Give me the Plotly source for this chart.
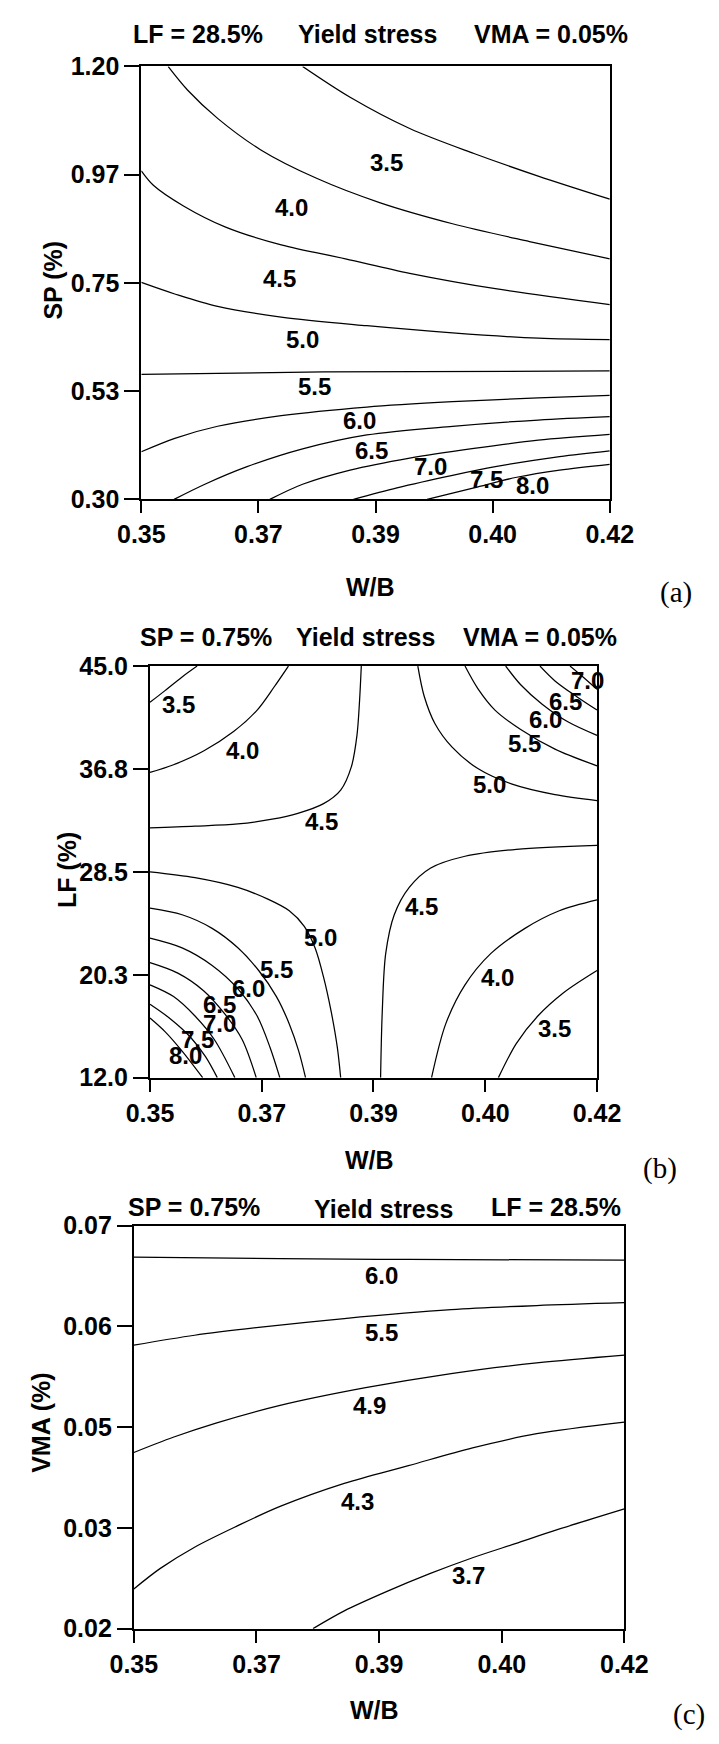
import plotly.graph_objects as go

W, H = 719, 1744
SANS = "Liberation Sans"
SERIF = "Liberation Serif"

# ---- axis ticks -------------------------------------------------------
wb_tickvals = [0.35, 0.3675, 0.385, 0.4025, 0.42]
wb_ticktext = ["0.35", "0.37", "0.39", "0.40", "0.42"]

sp_tickvals = [0.30, 0.525, 0.75, 0.975, 1.20]
sp_ticktext = ["0.30", "0.53", "0.75", "0.97", "1.20"]

lf_tickvals = [12.0, 20.25, 28.5, 36.75, 45.0]
lf_ticktext = ["12.0", "20.3", "28.5", "36.8", "45.0"]

vma_tickvals = [0.02, 0.0325, 0.045, 0.0575, 0.07]
vma_ticktext = ["0.02", "0.03", "0.05", "0.06", "0.07"]

# ---- (a) yield stress vs W/B and SP (LF = 28.5 %, VMA = 0.05 %) -------
a_levels = [3.5, 4.0, 4.5, 5.0, 5.5, 6.0, 6.5, 7.0, 7.5, 8.0]
a_wb = [
    [0.3741, 0.3812, 0.3901, 0.3997, 0.4093, 0.42],
    [0.3540, 0.3569, 0.3614, 0.3678, 0.3761, 0.3856, 0.3965, 0.4080, 0.42],
    [0.35, 0.3518, 0.3563, 0.3626, 0.3709, 0.3805, 0.3901, 0.4029, 0.42],
    [0.35, 0.3550, 0.3614, 0.3709, 0.3837, 0.3965, 0.4093, 0.42],
    [0.35, 0.3773, 0.42],
    [0.35, 0.3550, 0.3614, 0.3709, 0.3837, 0.3965, 0.4093, 0.42],
    [0.3549, 0.3595, 0.3658, 0.3741, 0.3837, 0.3965, 0.4093, 0.42],
    [0.3692, 0.3741, 0.3812, 0.3901, 0.3997, 0.4093, 0.42],
    [0.3817, 0.3882, 0.3965, 0.4029, 0.4125, 0.42],
    [0.3927, 0.3997, 0.4061, 0.4125, 0.42],
]
a_sp = [
    [1.20, 1.136, 1.071, 1.019, 0.972, 0.924],
    [1.20, 1.151, 1.092, 1.027, 0.968, 0.917, 0.873, 0.836, 0.800],
    [0.983, 0.953, 0.910, 0.866, 0.829, 0.800, 0.770, 0.738, 0.705],
    [0.751, 0.727, 0.701, 0.679, 0.661, 0.646, 0.635, 0.632],
    [0.560, 0.565, 0.567],
    [0.399, 0.427, 0.452, 0.474, 0.492, 0.503, 0.511, 0.516],
    [0.300, 0.3315, 0.368, 0.405, 0.434, 0.452, 0.465, 0.472],
    [0.300, 0.3315, 0.361, 0.386, 0.406, 0.423, 0.435],
    [0.300, 0.324, 0.350, 0.368, 0.389, 0.401],
    [0.300, 0.324, 0.346, 0.361, 0.373],
]
a_label_levels = [3.5, 4.0, 4.5, 5.0, 5.5, 6.0, 6.5, 7.0, 7.5, 8.0]
a_label_wb = [0.3866, 0.3724, 0.3706, 0.3741, 0.3759, 0.3826, 0.3844, 0.3932, 0.4016, 0.4085]
a_label_sp = [1.001, 0.906, 0.760, 0.632, 0.534, 0.465, 0.401, 0.368, 0.342, 0.328]

# ---- (b) yield stress vs W/B and LF (SP = 0.75 %, VMA = 0.05 %) -------
b_levels = [3.5, 4.0, 4.5, 5.0, 5.5, 6.0, 6.5, 7.0,
            5.0, 5.5, 6.0, 6.5, 7.0, 7.5, 8.0,
            4.5, 4.0, 3.5]
b_wb = [
    [0.35, 0.35235, 0.35503, 0.35738],
    [0.35, 0.35369, 0.35839, 0.36309, 0.36678, 0.36946, 0.37168],
    [0.35, 0.35705, 0.36376, 0.36913, 0.37315, 0.37718, 0.37986, 0.38154, 0.38241, 0.38282, 0.38309],
    [0.39194, 0.39295, 0.39463, 0.39731, 0.40134, 0.40671, 0.41342, 0.42],
    [0.39933, 0.40134, 0.40402, 0.40805, 0.41342, 0.42],
    [0.40570, 0.40805, 0.41141, 0.41543, 0.42],
    [0.41107, 0.41342, 0.41678, 0.42],
    [0.41577, 0.41745, 0.42],
    [0.35, 0.35705, 0.36376, 0.36846, 0.37181, 0.37416, 0.37584, 0.37718, 0.37839, 0.37933, 0.37986],
    [0.35, 0.35503, 0.35973, 0.36376, 0.36711, 0.36980, 0.37181, 0.37329, 0.37436],
    [0.35, 0.35503, 0.35973, 0.36376, 0.36678, 0.36879, 0.37033],
    [0.35, 0.35436, 0.35839, 0.36174, 0.36443, 0.36664],
    [0.35, 0.35369, 0.35705, 0.36007, 0.36329],
    [0.35, 0.35302, 0.35638, 0.35872, 0.36054],
    [0.35, 0.35235, 0.35503, 0.35825],
    [0.38611, 0.38637, 0.38691, 0.38825, 0.39060, 0.39396, 0.39933, 0.40738, 0.42],
    [0.39409, 0.39631, 0.39933, 0.40335, 0.40872, 0.41409, 0.42],
    [0.40456, 0.40738, 0.41073, 0.41476, 0.42],
]
b_lf = [
    [42.09, 43.03, 44.13, 45.0],
    [36.47, 37.09, 38.19, 39.75, 41.47, 43.34, 45.0],
    [32.03, 32.16, 32.34, 32.72, 33.19, 33.97, 35.06, 36.94, 39.44, 42.25, 45.0],
    [45.0, 42.56, 40.38, 38.50, 36.78, 35.53, 34.69, 34.22],
    [45.0, 43.19, 41.47, 39.91, 38.34, 37.0],
    [45.0, 43.50, 41.94, 40.53, 39.44],
    [45.0, 43.81, 42.56, 41.47],
    [45.0, 44.28, 43.13],
    [28.5, 28.03, 27.25, 26.31, 25.38, 24.13, 22.41, 20.06, 17.25, 14.44, 12.0],
    [25.59, 25.06, 23.97, 22.41, 20.53, 18.5, 16.31, 14.13, 12.0],
    [23.19, 22.41, 21.0, 19.13, 16.94, 14.44, 12.0],
    [21.22, 20.38, 18.97, 17.09, 15.06, 12.0],
    [19.44, 18.5, 16.94, 15.06, 12.0],
    [17.88, 16.78, 15.22, 13.66, 12.0],
    [16.78, 15.69, 14.13, 12.0],
    [12.0, 17.25, 21.94, 25.06, 27.25, 28.81, 29.75, 30.31, 30.63],
    [12.0, 16.31, 19.44, 21.94, 23.97, 25.38, 26.25],
    [12.0, 14.75, 16.94, 18.81, 20.59],
]
b_label_levels = [3.5, 4.0, 4.5, 5.0, 5.5, 6.0, 6.5, 7.0, 4.5,
                  5.0, 5.5, 6.0, 6.5, 7.0, 7.5, 8.0, 4.0, 3.5]
b_label_wb = [0.35450, 0.36456, 0.37684, 0.40322, 0.40859, 0.41194, 0.41510, 0.41845, 0.39248,
              0.37671, 0.36980, 0.36544, 0.36094, 0.36094, 0.35738, 0.35557, 0.40436, 0.41328]
b_label_lf = [41.88, 38.25, 32.56, 35.53, 38.81, 40.75, 42.19, 43.81, 25.75,
              23.25, 20.69, 19.13, 17.88, 16.31, 15.06, 13.81, 20.06, 15.94]

# ---- (c) yield stress vs W/B and VMA (SP = 0.75 %, LF = 28.5 %) -------
c_levels = [6.0, 5.5, 4.9, 4.3, 3.7]
c_wb = [
    [0.35, 0.37087, 0.38918, 0.42],
    [0.35, 0.35867, 0.36782, 0.38003, 0.39528, 0.40749, 0.42],
    [0.35, 0.35561, 0.36172, 0.37087, 0.38308, 0.39528, 0.40749, 0.42],
    [0.35, 0.35378, 0.35867, 0.36477, 0.37087, 0.38003, 0.38918, 0.39834, 0.40749, 0.42],
    [0.37557, 0.38003, 0.38613, 0.39223, 0.39834, 0.40444, 0.41054, 0.42],
]
c_vma = [
    [0.06609, 0.06591, 0.06582, 0.06573],
    [0.05518, 0.05641, 0.05738, 0.05848, 0.05958, 0.06010, 0.06046],
    [0.04186, 0.04375, 0.04551, 0.04770, 0.04990, 0.05166, 0.05298, 0.05395],
    [0.02493, 0.02748, 0.03011, 0.03275, 0.03517, 0.03803, 0.04023, 0.04243, 0.04419, 0.04564],
    [0.02, 0.02220, 0.02462, 0.02682, 0.02880, 0.03055, 0.03231, 0.03486],
]
c_label_levels = [6.0, 5.5, 4.9, 4.3, 3.7]
c_label_wb = [0.38540, 0.38540, 0.38357, 0.38186, 0.39773]
c_label_vma = [0.06384, 0.05672, 0.04770, 0.03583, 0.02660]


def px_x(px):
    return px / W


def px_y(py):
    return 1 - py / H


fig = go.Figure()

LINE = dict(color="black", width=1.25, shape="spline", smoothing=0.9)


def add_lines(xs, ys, levels, ax):
    for lvl, x, y in zip(levels, xs, ys):
        fig.add_trace(go.Scatter(
            x=x, y=y, mode="lines", line=LINE, name=f"{lvl:.1f}",
            xaxis="x" + ax, yaxis="y" + ax, showlegend=False, hoverinfo="skip"))


add_lines(a_wb, a_sp, a_levels, "")
add_lines(b_wb, b_lf, b_levels, "2")
add_lines(c_wb, c_vma, c_levels, "3")

annotations = []


def bold(size):
    return dict(family=SANS, size=size, color="black", weight="bold")


def add_labels(xs, ys, levels, ax):
    for lvl, x, y in zip(levels, xs, ys):
        annotations.append(dict(
            text=f"{lvl:.1f}", x=x, y=y, xref="x" + ax, yref="y" + ax,
            showarrow=False, font=bold(24), xanchor="center", yanchor="middle"))


add_labels(a_label_wb, a_label_sp, a_label_levels, "")
add_labels(b_label_wb, b_label_lf, b_label_levels, "2")
add_labels(c_label_wb, c_label_vma, c_label_levels, "3")


def note(text, px, py, size=25, font=None, angle=0, xanchor="center"):
    annotations.append(dict(
        text=text, x=px_x(px), y=px_y(py), xref="paper", yref="paper",
        showarrow=False, font=font or bold(size), textangle=angle,
        xanchor=xanchor, yanchor="middle"))


serif = dict(family=SERIF, size=29, color="black")

# panel (a) headings and axis titles
note("LF = 28.5%", 186.5, 20)
note("Yield stress", 368, 20)
note("VMA = 0.05%", 565, 20)
note("W/B", 371, 582)
note("SP (%)", 31, 270, angle=-90)
note("(a)", 699, 588, font=serif)

# panel (b)
note("SP = 0.75%", 195.5, 633)
note("Yield stress", 366, 633)
note("VMA = 0.05%", 553, 633)
note("W/B", 370, 1165)
note("LF (%)", 46, 870, angle=-90)
note("(b)", 681, 1173, font=serif)

# panel (c)
note("SP = 0.75%", 182, 1212)
note("Yield stress", 385.5, 1215)
note("LF = 28.5%", 570, 1212)
note("W/B", 376, 1724)
note("VMA (%)", 18, 1432, angle=-90)
note("(c)", 693, 1728, font=serif, xanchor="left")


def xaxis(left, right, anchor):
    return dict(
        domain=[px_x(left), px_x(right)], range=[0.35, 0.42], anchor=anchor,
        tickmode="array", tickvals=wb_tickvals, ticktext=wb_ticktext,
        ticks="outside", ticklen=12, tickwidth=1.5, tickcolor="black",
        showline=True, linewidth=2, linecolor="black", mirror=True,
        showgrid=False, zeroline=False, tickfont=bold(25), fixedrange=True)


def yaxis(top, bottom, rng, vals, text, anchor):
    return dict(
        domain=[px_y(bottom), px_y(top)], range=rng, anchor=anchor,
        tickmode="array", tickvals=vals, ticktext=text,
        ticks="outside", ticklen=15, tickwidth=1.5, tickcolor="black",
        showline=True, linewidth=2, linecolor="black", mirror=True,
        showgrid=False, zeroline=False, tickfont=bold(25), fixedrange=True)


fig.update_layout(
    width=W, height=H, margin=dict(l=0, r=0, t=0, b=0),
    paper_bgcolor="white", plot_bgcolor="white", showlegend=False,
    xaxis=xaxis(125.7, 627.7, "y"),
    yaxis=yaxis(53.3, 493.3, [0.30, 1.20], sp_tickvals, sp_ticktext, "x"),
    xaxis2=xaxis(135, 614, "y2"),
    yaxis2=yaxis(662.7, 1081, [12.0, 45.0], lf_tickvals, lf_ticktext, "x2"),
    xaxis3=xaxis(117.7, 643.3, "y3"),
    yaxis3=yaxis(1231.5, 1641, [0.02, 0.07], vma_tickvals, vma_ticktext, "x3"),
    annotations=annotations,
)

fig.write_html("out.html")
